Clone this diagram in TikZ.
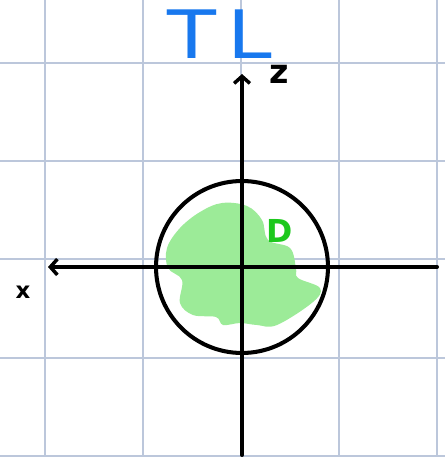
\documentclass[tikz,border=0pt]{standalone}
\usepackage{fontspec}
\setmainfont{DejaVu Sans}
\usetikzlibrary{arrows.meta}
\definecolor{gridblue}{HTML}{BCC7DB}
\definecolor{blobgreen}{HTML}{9CEB98}
\definecolor{labelgreen}{HTML}{1DC81D}
\definecolor{titleblue}{HTML}{1878EE}
\tikzset{
  gridline/.style={gridblue, line width=0.7pt},
  axisline/.style={line width=2.3pt, line cap=round, -{Straight Barb[length=4pt,width=9pt,line width=2pt]}},
}
\begin{document}
\begin{tikzpicture}[x=0.02cm, y=-0.02cm]
  \useasboundingbox (0,0) rectangle (445,457);
  \foreach \gx in {45,143,241,339,437}
    \draw[gridline] (\gx,0) -- (\gx,457);
  \foreach \gy in {63,161,259,358,456}
    \draw[gridline] (0,\gy) -- (445,\gy);
  \fill[blobgreen] plot[smooth cycle, tension=0.6] coordinates {
    (167,248) (180,228) (200,212) (222,203) (247,206) (262,220) (268,240)
    (290,248) (296,268) (298,278) (320,288) (313,302) (277,325)
    (257,325) (240,323) (223,325) (216,317) (193,315) (180,303)
    (182,280) (168,268)};
  \coordinate (origin) at (242,267);
  \coordinate (ztop) at (242,74);
  \coordinate (zbot) at (242,455);
  \coordinate (xleft) at (48,267);
  \coordinate (xright) at (437,267);
  \node[circle, draw, line width=2.3pt, inner sep=0pt, minimum size=3.44cm] (disk) at (origin) {};
  \draw[axisline] (zbot) -- (ztop);
  \draw[axisline] (xright) -- (xleft);
  \node[font=\fontsize{38}{38}\selectfont, text=titleblue, xscale=1.2] (title) at (220,34) {T\kern5pt L};
  \node[font=\fontsize{19}{19}\selectfont\bfseries] (zlabel) at (279,74) {z};
  \node[font=\fontsize{13}{13}\selectfont\bfseries] (xlabel) at (23,292) {x};
  \node[font=\fontsize{18}{18}\selectfont\bfseries, text=labelgreen] (dlabel) at (280,231) {D};
\end{tikzpicture}
\end{document}
